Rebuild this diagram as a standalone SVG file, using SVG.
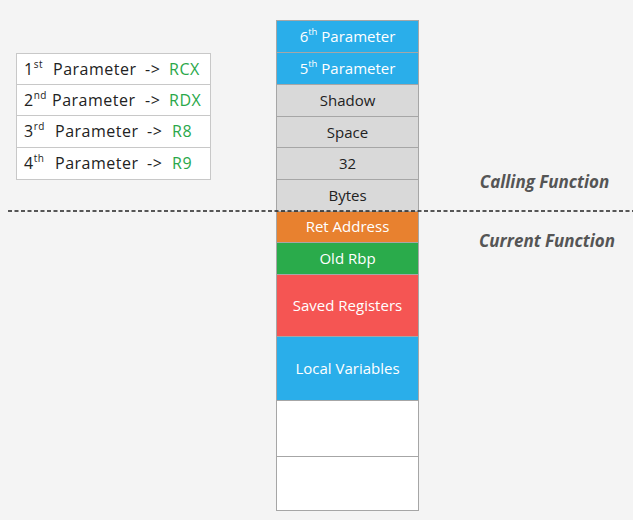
<svg xmlns="http://www.w3.org/2000/svg" width="633" height="520" viewBox="0 0 633 520">
<style>
.cell{stroke:#a6a6a6;stroke-width:1}
.t{font-family:"Open Sans","Liberation Sans",sans-serif;font-size:15px;text-anchor:middle;dominant-baseline:central}
.w{fill:#ffffff}
.d{fill:#222222}
.tb{font-family:"Open Sans","Liberation Sans",sans-serif;font-size:16px;letter-spacing:0.5px;fill:#222222;dominant-baseline:central}
.g{fill:#2aa84a}
.lbl{font-family:"Open Sans","Liberation Sans",sans-serif;font-size:17px;font-style:italic;font-weight:bold;fill:#555555;text-anchor:middle;dominant-baseline:central}
</style>
<rect x="0" y="0" width="633" height="520" fill="#f4f4f4"/>

<g id="table">
<rect x="16.5" y="53.5" width="194" height="126" fill="#ffffff" stroke="#c8c8c8"/>
<line x1="16.5" y1="84.5" x2="210.5" y2="84.5" stroke="#c8c8c8"/>
<line x1="16.5" y1="115.5" x2="210.5" y2="115.5" stroke="#c8c8c8"/>
<line x1="16.5" y1="147.5" x2="210.5" y2="147.5" stroke="#c8c8c8"/>
<text class="tb" x="24" y="69">1<tspan font-size="10" dy="-5">st</tspan><tspan x="53" dy="5">Parameter</tspan><tspan x="145">-&gt;</tspan><tspan x="169" class="g">RCX</tspan></text>
<text class="tb" x="24" y="100">2<tspan font-size="10" dy="-5">nd</tspan><tspan x="52" dy="5">Parameter</tspan><tspan x="145">-&gt;</tspan><tspan x="169" class="g">RDX</tspan></text>
<text class="tb" x="24" y="131">3<tspan font-size="10" dy="-5">rd</tspan><tspan x="55" dy="5">Parameter</tspan><tspan x="147">-&gt;</tspan><tspan x="172" class="g">R8</tspan></text>
<text class="tb" x="24" y="163">4<tspan font-size="10" dy="-5">th</tspan><tspan x="55" dy="5">Parameter</tspan><tspan x="147">-&gt;</tspan><tspan x="172" class="g">R9</tspan></text>
</g>

<g id="p6"><rect class="cell" x="276.5" y="20.5" width="142" height="32" fill="#2aaeea"/><text class="t w" x="347.5" y="36">6<tspan font-size="9.5" dy="-5">th</tspan><tspan dy="5"> Parameter</tspan></text></g>
<g id="p5"><rect class="cell" x="276.5" y="52.5" width="142" height="32" fill="#2aaeea"/><text class="t w" x="347.5" y="68">5<tspan font-size="9.5" dy="-5">th</tspan><tspan dy="5"> Parameter</tspan></text></g>
<g id="shadow"><rect class="cell" x="276.5" y="84.5" width="142" height="32" fill="#d9d9d9"/><text class="t d" x="347.5" y="100">Shadow</text></g>
<g id="space"><rect class="cell" x="276.5" y="116.5" width="142" height="31" fill="#d9d9d9"/><text class="t d" x="347.5" y="132">Space</text></g>
<g id="n32"><rect class="cell" x="276.5" y="147.5" width="142" height="32" fill="#d9d9d9"/><text class="t d" x="347.5" y="163">32</text></g>
<g id="bytes"><rect class="cell" x="276.5" y="179.5" width="142" height="32" fill="#d9d9d9"/><text class="t d" x="347.5" y="195">Bytes</text></g>
<g id="ret"><rect class="cell" x="276.5" y="211.5" width="142" height="31" fill="#e8812f"/><text class="t w" x="347.5" y="226">Ret Address</text></g>
<g id="rbp"><rect class="cell" x="276.5" y="242.5" width="142" height="32" fill="#2aab4b"/><text class="t w" x="347.5" y="258">Old Rbp</text></g>
<g id="saved"><rect class="cell" x="276.5" y="274.5" width="142" height="62" fill="#f55553"/><text class="t w" x="347.5" y="305">Saved Registers</text></g>
<g id="locals"><rect class="cell" x="276.5" y="336.5" width="142" height="64" fill="#2aaeea"/><text class="t w" x="347.5" y="368">Local Variables</text></g>
<g id="empty1"><rect class="cell" x="276.5" y="400.5" width="142" height="56" fill="#ffffff"/></g>
<g id="empty2"><rect class="cell" x="276.5" y="456.5" width="142" height="54" fill="#ffffff"/></g>

<g id="connectors">
<line x1="8" y1="211" x2="633" y2="211" stroke="#222222" stroke-width="1.5" stroke-dasharray="4,2.5"/>
</g>

<text class="lbl" x="544.5" y="181">Calling Function</text>
<text class="lbl" x="547" y="240">Current Function</text>
</svg>
